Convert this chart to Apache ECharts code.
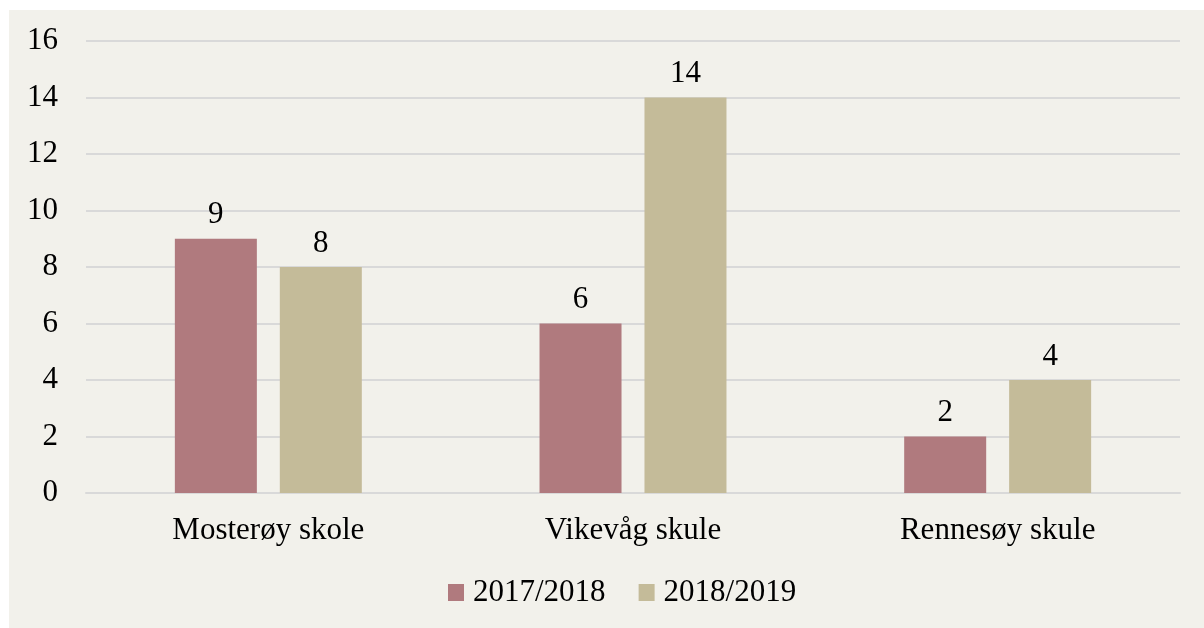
<!DOCTYPE html>
<html>
<head>
<meta charset="utf-8">
<script src="https://cdn.jsdelivr.net/npm/echarts@6/dist/echarts.min.js"></script>
<style>
  html, body { margin: 0; padding: 0; background: #ffffff; }
  #main { position: absolute; left: 9px; top: 10px; width: 1195px; height: 618px; background: #f2f1eb; }
</style>
</head>
<body>
<div id="main"></div>
<script>
var categories = ['Mosterøy skole', 'Vikevåg skule', 'Rennesøy skule'];
var seriesNames = ['2017/2018', '2018/2019'];
var values1718 = [9, 6, 2];
var values1819 = [8, 14, 4];
var colors = ['#b07a7e', '#c4bb99'];

var font = '"Liberation Serif", "Times New Roman", serif';
var chart = echarts.init(document.getElementById('main'));

function barSeries(name, data, color) {
  return {
    name: name,
    type: 'bar',
    data: data,
    barWidth: 82,
    barGap: '28%',
    itemStyle: { color: color },
    label: {
      show: true,
      position: 'top',
      distance: 8,
      color: '#000',
      fontFamily: font,
      fontSize: 31
    }
  };
}

chart.setOption({
  animation: false,
  color: colors,
  grid: { left: 77, right: 24, top: 31, bottom: 135 },
  legend: {
    bottom: 15,
    left: 434,
    itemWidth: 16,
    itemHeight: 17,
    itemGap: 33,
    icon: 'rect',
    textStyle: { fontFamily: font, fontSize: 31, color: '#000', padding: [0, 0, 0, 4] },
    data: seriesNames
  },
  xAxis: {
    type: 'category',
    data: categories,
    axisLine: { lineStyle: { color: '#d9d9d9', width: 2 } },
    axisTick: { show: false },
    axisLabel: { margin: 22, color: '#000', fontFamily: font, fontSize: 31 }
  },
  yAxis: {
    type: 'value',
    min: 0,
    max: 16,
    interval: 2,
    axisLine: { show: false },
    axisTick: { show: false },
    splitLine: { lineStyle: { color: '#d9d9d9', width: 2 } },
    axisLabel: { margin: 28, color: '#000', fontFamily: font, fontSize: 31 }
  },
  series: [
    barSeries(seriesNames[0], values1718, colors[0]),
    barSeries(seriesNames[1], values1819, colors[1])
  ]
});
</script>
</body>
</html>
